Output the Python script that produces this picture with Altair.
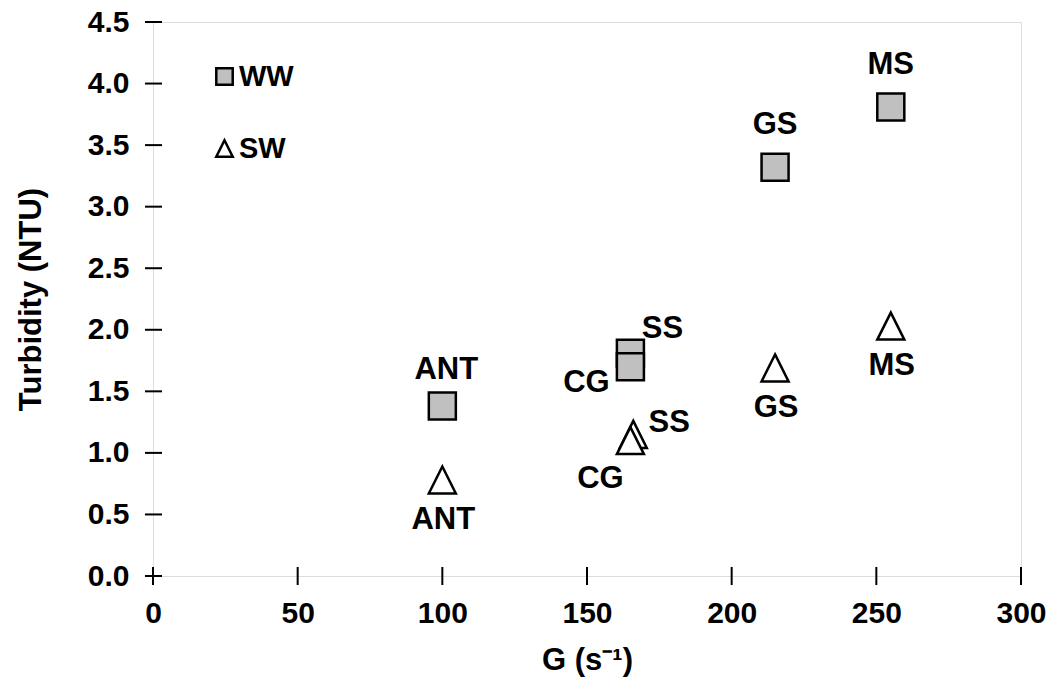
import altair as alt
import pandas as pd

# ---- data ----
series = ["WW", "WW", "WW", "WW", "WW", "SW", "SW", "SW", "SW", "SW"]
sites = ["ANT", "SS", "CG", "GS", "MS", "ANT", "SS", "CG", "GS", "MS"]
g_values = [100, 165, 165, 215, 255, 100, 166, 165, 215, 255]
turbidity = [1.38, 1.81, 1.70, 3.32, 3.81, 0.78, 1.15, 1.10, 1.69, 2.03]
label_place = ["above_ant", "ss_ww", "cg_ww", "above", "above",
               "below", "ss_sw", "cg_sw", "below", "below"]

x_ticks = [0, 50, 100, 150, 200, 250, 300]
y_ticks = [0.0, 0.5, 1.0, 1.5, 2.0, 2.5, 3.0, 3.5, 4.0, 4.5]

df = pd.DataFrame({"series": series, "site": sites, "G": g_values,
                   "T": turbidity, "place": label_place})
xt = pd.DataFrame({"v": x_ticks})
yt = pd.DataFrame({"v": y_ticks})

FONT = "Liberation Sans"
W, H = 868, 554
TRI = "M0,-1L1,1L-1,1Z"

xscale = alt.Scale(domain=[0, 300], nice=False, zero=False)
yscale = alt.Scale(domain=[0, 4.5], nice=False, zero=False)

x_axis = alt.Axis(values=x_ticks, ticks=False, domain=False, grid=False,
                  labelFlush=False, labelOverlap=False,
                  labelPadding=22, labelFontSize=30, labelFont=FONT,
                  labelFontWeight="bold", labelColor="black",
                  title="G (s⁻¹)", titleFontSize=31, titleFont=FONT,
                  titleFontWeight="bold", titleColor="black", titlePadding=17)
y_axis = alt.Axis(values=y_ticks, ticks=False, domain=False, grid=False,
                  labelFlush=False, labelOverlap=False,
                  format=".1f", labelPadding=24, labelFontSize=30, labelFont=FONT,
                  labelFontWeight="bold", labelColor="black",
                  title="Turbidity (NTU)", titleFontSize=31, titleFont=FONT,
                  titleFontWeight="bold", titleColor="black", titlePadding=40)

legend = alt.Legend(orient="none", legendX=57, legendY=40, title=None,
                    symbolSize=270, symbolStrokeWidth=2.5,
                    symbolStrokeColor="black",
                    labelFontSize=29, labelFont=FONT,
                    labelFontWeight="bold", labelColor="black",
                    rowPadding=42, labelOffset=0, padding=0)
domain = ["WW", "SW"]

points = alt.Chart(df).mark_point(
    strokeWidth=2.5, opacity=1, fillOpacity=1, strokeOpacity=1, size=730
).encode(
    x=alt.X("G:Q", scale=xscale, axis=x_axis),
    y=alt.Y("T:Q", scale=yscale, axis=y_axis),
    shape=alt.Shape("series:N", scale=alt.Scale(domain=domain, range=["square", TRI]), legend=legend),
    fill=alt.Fill("series:N", scale=alt.Scale(domain=domain, range=["#c0c0c0", "#ffffff"]), legend=legend),
    stroke=alt.Stroke("series:N", scale=alt.Scale(domain=domain, range=["#000000", "#000000"]), legend=legend),
)

offsets = {
    "above_ant": (4, -36),
    "above": (0, -42),
    "below": (1, 40),
    "cg_ww": (-44, 16),
    "ss_ww": (32, -24),
    "cg_sw": (-30, 38),
    "ss_sw": (36, -11),
}

label_layers = []
for name, (dx, dy) in offsets.items():
    label_layers.append(
        alt.Chart(df).transform_filter(alt.datum.place == name).mark_text(
            dx=dx, dy=dy, font=FONT, fontSize=31, fontWeight="bold",
            color="black", align="center", baseline="middle"
        ).encode(x=alt.X("G:Q", scale=xscale), y=alt.Y("T:Q", scale=yscale), text="site:N")
    )

xtick_marks = alt.Chart(xt).mark_rule(color="black", strokeWidth=2).encode(
    x=alt.X("v:Q", scale=xscale), y=alt.value(H - 9), y2=alt.value(H + 9))
ytick_marks = alt.Chart(yt).mark_rule(color="black", strokeWidth=2).encode(
    y=alt.Y("v:Q", scale=yscale), x=alt.value(-8), x2=alt.value(9))

chart = alt.layer(xtick_marks, ytick_marks, points, *label_layers).properties(
    width=W, height=H,
    autosize=alt.AutoSizeParams(type="none"),
    padding={"left": 153, "top": 22, "right": 32, "bottom": 105},
).configure_view(stroke="black", strokeWidth=2.5).configure(background="white")

chart.save("out.html", embed_options={"renderer": "svg", "actions": False})
